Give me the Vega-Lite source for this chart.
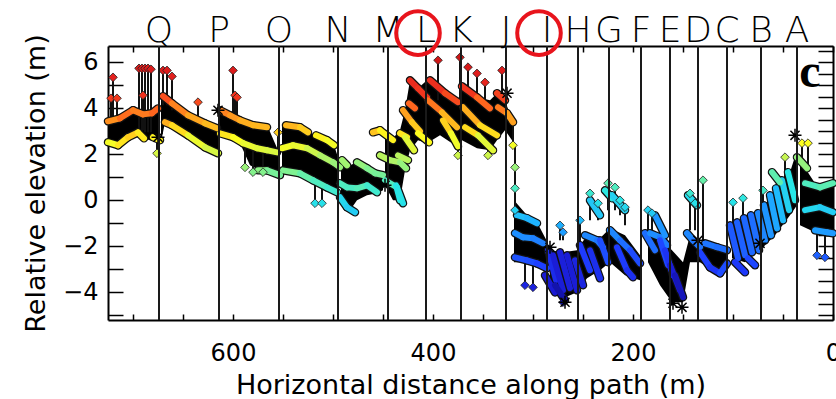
{
  "$schema": "https://vega.github.io/schema/vega-lite/v6.json",
  "width": 725,
  "height": 274,
  "autosize": {"type": "none"},
  "padding": {"left": 108, "top": 46, "right": 3, "bottom": 79},
  "background": "white",
  "config": {
    "view": {"stroke": null},
    "font": "DejaVu Sans",
    "axis": {
      "grid": false,
      "domainColor": "black",
      "domainWidth": 2,
      "tickColor": "black",
      "tickWidth": 1.5,
      "labelFont": "DejaVu Sans",
      "labelFontSize": 24,
      "labelColor": "black",
      "labelOverlap": false,
      "labelFlush": false,
      "labelBound": false,
      "titleFont": "DejaVu Sans",
      "titleFontSize": 27,
      "titleFontWeight": "normal",
      "titleColor": "black",
      "zindex": 1
    }
  },
  "datasets": {
    "fill": [
      {"g": 1, "x": 725, "hi": 3.43, "lo": 2.52}, {"g": 1, "x": 715, "hi": 3.56, "lo": 2.39}, {"g": 1, "x": 705, "hi": 3.78, "lo": 2.74}, {"g": 1, "x": 700, "hi": 3.91, "lo": 2.82}, {"g": 1, "x": 695, "hi": 3.86, "lo": 2.95}, {"g": 1, "x": 690, "hi": 3.73, "lo": 2.69}, {"g": 1, "x": 683, "hi": 3.78, "lo": 2.61}, {"g": 1, "x": 675, "hi": 3.99, "lo": 2.61},
      {"g": 2, "x": 672, "hi": 4.43, "lo": 2.52}, {"g": 2, "x": 668, "hi": 4.52, "lo": 3.39}, {"g": 2, "x": 661, "hi": 4.21, "lo": 3.26}, {"g": 2, "x": 645, "hi": 3.69, "lo": 2.82}, {"g": 2, "x": 628, "hi": 3.34, "lo": 2.30}, {"g": 2, "x": 615, "hi": 3.13, "lo": 2.04},
      {"g": 3, "x": 613, "hi": 3.91, "lo": 2.91}, {"g": 3, "x": 593, "hi": 3.47, "lo": 2.48}, {"g": 3, "x": 583, "hi": 3.34, "lo": 1.52}, {"g": 3, "x": 573, "hi": 3.21, "lo": 1.30}, {"g": 3, "x": 565, "hi": 3.17, "lo": 1.22}, {"g": 3, "x": 555, "hi": 2.17, "lo": 1.04},
      {"g": 4, "x": 551, "hi": 3.26, "lo": 1.30}, {"g": 4, "x": 533, "hi": 3.17, "lo": 1.17}, {"g": 4, "x": 523, "hi": 2.91, "lo": 0.96}, {"g": 4, "x": 517, "hi": 2.82, "lo": 0.83}, {"g": 4, "x": 506, "hi": 2.61, "lo": 0.56}, {"g": 4, "x": 499, "hi": 2.39, "lo": 0.35}, {"g": 4, "x": 494, "hi": 1.74, "lo": 0.22},
      {"g": 5, "x": 492, "hi": 1.52, "lo": -0.22}, {"g": 5, "x": 483, "hi": 1.52, "lo": -0.43}, {"g": 5, "x": 476, "hi": 1.65, "lo": 0}, {"g": 5, "x": 466, "hi": 1.39, "lo": 0.22}, {"g": 5, "x": 456, "hi": 1.17, "lo": 0.30}, {"g": 5, "x": 450, "hi": 1.09, "lo": 0.43},
      {"g": 6, "x": 448, "hi": 2.95, "lo": 0.65}, {"g": 6, "x": 440, "hi": 2.69, "lo": 0}, {"g": 6, "x": 433, "hi": 3.04, "lo": 0}, {"g": 6, "x": 428, "hi": 3.91, "lo": 1.30}, {"g": 6, "x": 423, "hi": 5.21, "lo": 2.17}, {"g": 6, "x": 415, "hi": 4.86, "lo": 2.61}, {"g": 6, "x": 406, "hi": 5.21, "lo": 2.48}, {"g": 6, "x": 393, "hi": 4.99, "lo": 2.82}, {"g": 6, "x": 375, "hi": 4.34, "lo": 2.30}, {"g": 6, "x": 371, "hi": 4.95, "lo": 2.61}, {"g": 6, "x": 356, "hi": 4.47, "lo": 2.26}, {"g": 6, "x": 343, "hi": 4.34, "lo": 2.17}, {"g": 6, "x": 336, "hi": 4.65, "lo": 2.61}, {"g": 6, "x": 328, "hi": 4.34, "lo": 3.04}, {"g": 6, "x": 321, "hi": 3.47, "lo": 2.61},
      {"g": 7, "x": 319, "hi": 0, "lo": -2.69}, {"g": 7, "x": 306, "hi": -0.65, "lo": -2.69}, {"g": 7, "x": 296, "hi": -0.96, "lo": -2.82}, {"g": 7, "x": 285, "hi": -1.87, "lo": -3.13},
      {"g": 8, "x": 283, "hi": -2.17, "lo": -3.91}, {"g": 8, "x": 270, "hi": -2.26, "lo": -4.26}, {"g": 8, "x": 256, "hi": -2.17, "lo": -4.0}, {"g": 8, "x": 246, "hi": -1.52, "lo": -3.39}, {"g": 8, "x": 233, "hi": -1.65, "lo": -3.04}, {"g": 8, "x": 223, "hi": -1.22, "lo": -2.69}, {"g": 8, "x": 208, "hi": -1.52, "lo": -3.26}, {"g": 8, "x": 193, "hi": -2.39, "lo": -3.47},
      {"g": 9, "x": 185, "hi": -1.43, "lo": -2.69}, {"g": 9, "x": 173, "hi": -1.61, "lo": -3.69}, {"g": 9, "x": 161, "hi": -2.17, "lo": -4.43}, {"g": 9, "x": 150, "hi": -2.69, "lo": -4.43}, {"g": 9, "x": 143, "hi": -1.52, "lo": -2.69}, {"g": 9, "x": 133, "hi": -1.82, "lo": -2.69}, {"g": 9, "x": 118, "hi": -1.95, "lo": -3.13}, {"g": 9, "x": 106, "hi": -2.17, "lo": -2.95},
      {"g": 10, "x": 101, "hi": -1.22, "lo": -2.52}, {"g": 10, "x": 88, "hi": -0.87, "lo": -2.69}, {"g": 10, "x": 73, "hi": -0.43, "lo": -2.17}, {"g": 10, "x": 58, "hi": 0.35, "lo": -1.52}, {"g": 10, "x": 43, "hi": 1.22, "lo": -0.65}, {"g": 10, "x": 36, "hi": 2.17, "lo": -0.22},
      {"g": 11, "x": 33, "hi": 1.74, "lo": -1.09}, {"g": 11, "x": 18, "hi": 0.74, "lo": -1.39}, {"g": 11, "x": 0, "hi": 0.74, "lo": -1.52}
    ],
    "strokes": [
      {"x": 725, "y": 3.43, "x2": 713, "y2": 3.56}, {"x": 713, "y": 3.56, "x2": 700, "y2": 3.91}, {"x": 700, "y": 3.91, "x2": 690, "y2": 3.73}, {"x": 690, "y": 3.73, "x2": 681, "y2": 3.78}, {"x": 681, "y": 3.78, "x2": 675, "y2": 3.99},
      {"x": 725, "y": 2.52, "x2": 715, "y2": 2.39}, {"x": 715, "y": 2.39, "x2": 705, "y2": 2.74}, {"x": 705, "y": 2.74, "x2": 695, "y2": 2.95}, {"x": 695, "y": 2.95, "x2": 689, "y2": 2.69}, {"x": 680, "y": 2.74, "x2": 673, "y2": 2.61},
      {"x": 670, "y": 4.52, "x2": 661, "y2": 4.21}, {"x": 661, "y": 4.21, "x2": 645, "y2": 3.69}, {"x": 645, "y": 3.69, "x2": 628, "y2": 3.34}, {"x": 628, "y": 3.34, "x2": 616, "y2": 3.13},
      {"x": 668, "y": 3.39, "x2": 661, "y2": 3.26}, {"x": 661, "y": 3.26, "x2": 645, "y2": 2.82}, {"x": 645, "y": 2.82, "x2": 628, "y2": 2.30}, {"x": 628, "y": 2.30, "x2": 615, "y2": 2.04},
      {"x": 613, "y": 3.91, "x2": 603, "y2": 3.69}, {"x": 603, "y": 3.69, "x2": 593, "y2": 3.47}, {"x": 593, "y": 3.47, "x2": 580, "y2": 3.26}, {"x": 580, "y": 3.26, "x2": 566, "y2": 3.17},
      {"x": 613, "y": 2.91, "x2": 600, "y2": 2.74}, {"x": 600, "y": 2.74, "x2": 590, "y2": 2.48}, {"x": 590, "y": 2.48, "x2": 576, "y2": 2.26}, {"x": 576, "y": 2.26, "x2": 566, "y2": 2.17}, {"x": 566, "y": 2.17, "x2": 556, "y2": 2.08},
      {"x": 575, "y": 1.30, "x2": 566, "y2": 1.30}, {"x": 566, "y": 1.30, "x2": 553, "y2": 1.09},
      {"x": 547, "y": 3.26, "x2": 533, "y2": 3.17}, {"x": 533, "y": 3.17, "x2": 525, "y2": 2.95},
      {"x": 551, "y": 2.26, "x2": 540, "y2": 2.39}, {"x": 540, "y": 2.39, "x2": 526, "y2": 2.26}, {"x": 526, "y": 2.26, "x2": 513, "y2": 1.95}, {"x": 513, "y": 1.95, "x2": 500, "y2": 1.65}, {"x": 500, "y": 1.65, "x2": 493, "y2": 1.43},
      {"x": 517, "y": 2.82, "x2": 506, "y2": 2.61}, {"x": 506, "y": 2.61, "x2": 499, "y2": 2.39},
      {"x": 550, "y": 1.30, "x2": 533, "y2": 1.17}, {"x": 533, "y": 1.17, "x2": 520, "y2": 0.87}, {"x": 520, "y": 0.87, "x2": 506, "y2": 0.56}, {"x": 506, "y": 0.56, "x2": 496, "y2": 0.35},
      {"x": 491, "y": 1.74, "x2": 486, "y2": 1.52},
      {"x": 493, "y": 0.74, "x2": 486, "y2": 0.56}, {"x": 486, "y": 0.56, "x2": 476, "y2": 0.52}, {"x": 476, "y": 0.52, "x2": 466, "y2": 0.65}, {"x": 466, "y": 0.65, "x2": 456, "y2": 0.35},
      {"x": 493, "y": 0.13, "x2": 486, "y2": -0.30}, {"x": 486, "y": -0.30, "x2": 478, "y2": -0.52},
      {"x": 476, "y": 1.65, "x2": 466, "y2": 1.39}, {"x": 466, "y": 1.39, "x2": 458, "y2": 1.17}, {"x": 458, "y": 1.17, "x2": 450, "y2": 1.09},
      {"x": 448, "y": 0.87, "x2": 436, "y2": 0.56}, {"x": 436, "y": 0.56, "x2": 430, "y2": -0.13},
      {"x": 460, "y": 2.95, "x2": 453, "y2": 3.04}, {"x": 453, "y": 3.04, "x2": 440, "y2": 2.61},
      {"x": 453, "y": 1.95, "x2": 443, "y2": 1.74}, {"x": 443, "y": 1.74, "x2": 433, "y2": 1.65}, {"x": 433, "y": 1.65, "x2": 427, "y2": 1.39},
      {"x": 433, "y": 2.91, "x2": 426, "y2": 2.74}, {"x": 428, "y": 2.74, "x2": 419, "y2": 2.17},
      {"x": 435, "y": 1.95, "x2": 425, "y2": 1.74}, {"x": 437, "y": 0.65, "x2": 433, "y2": 0},
      {"x": 430, "y": 3.91, "x2": 421, "y2": 3.39}, {"x": 421, "y": 3.39, "x2": 413, "y2": 3.0},
      {"x": 424, "y": 4.21, "x2": 418, "y2": 3.99},
      {"x": 423, "y": 5.21, "x2": 415, "y2": 4.86}, {"x": 415, "y": 4.86, "x2": 406, "y2": 4.47},
      {"x": 415, "y": 2.91, "x2": 404, "y2": 2.52},
      {"x": 403, "y": 5.21, "x2": 388, "y2": 4.65}, {"x": 388, "y": 4.65, "x2": 375, "y2": 4.26},
      {"x": 405, "y": 4.34, "x2": 391, "y2": 3.82}, {"x": 391, "y": 3.82, "x2": 376, "y2": 3.17},
      {"x": 390, "y": 3.47, "x2": 382, "y2": 2.91}, {"x": 382, "y": 2.91, "x2": 375, "y2": 2.34},
      {"x": 371, "y": 4.95, "x2": 356, "y2": 4.47}, {"x": 356, "y": 4.47, "x2": 343, "y2": 3.99},
      {"x": 370, "y": 4.04, "x2": 353, "y2": 3.26}, {"x": 353, "y": 3.26, "x2": 336, "y2": 2.82},
      {"x": 368, "y": 3.17, "x2": 355, "y2": 2.82}, {"x": 355, "y": 2.82, "x2": 340, "y2": 2.17},
      {"x": 336, "y": 4.65, "x2": 328, "y2": 4.34},
      {"x": 335, "y": 4.04, "x2": 326, "y2": 3.78}, {"x": 326, "y": 3.78, "x2": 320, "y2": 3.39},
      {"x": 316, "y": -0.65, "x2": 306, "y2": -0.78}, {"x": 306, "y": -0.78, "x2": 296, "y2": -1.0},
      {"x": 318, "y": -1.43, "x2": 310, "y2": -1.61}, {"x": 310, "y": -1.61, "x2": 300, "y2": -1.65}, {"x": 300, "y": -1.65, "x2": 290, "y2": -1.87},
      {"x": 318, "y": -2.48, "x2": 306, "y2": -2.61}, {"x": 306, "y": -2.61, "x2": 296, "y2": -2.74}, {"x": 296, "y": -2.74, "x2": 286, "y2": -2.95},
      {"x": 285, "y": -2.17, "x2": 277, "y2": -3.47}, {"x": 280, "y": -2.39, "x2": 270, "y2": -3.91}, {"x": 273, "y": -2.26, "x2": 263, "y2": -3.82}, {"x": 266, "y": -2.39, "x2": 256, "y2": -3.91}, {"x": 258, "y": -2.61, "x2": 250, "y2": -3.69},
      {"x": 288, "y": -3.26, "x2": 278, "y2": -4.0}, {"x": 278, "y": -3.69, "x2": 268, "y2": -4.34},
      {"x": 248, "y": -1.52, "x2": 236, "y2": -1.74}, {"x": 236, "y": -1.74, "x2": 230, "y2": -2.04},
      {"x": 243, "y": 0, "x2": 233, "y2": -0.65}, {"x": 228, "y": 0.43, "x2": 221, "y2": 0.09}, {"x": 221, "y": 0.22, "x2": 208, "y2": -0.43},
      {"x": 223, "y": -1.30, "x2": 213, "y2": -1.74}, {"x": 213, "y": -1.74, "x2": 203, "y2": -2.17}, {"x": 203, "y": -2.17, "x2": 193, "y2": -2.74},
      {"x": 253, "y": -1.95, "x2": 243, "y2": -3.04}, {"x": 243, "y": -2.17, "x2": 233, "y2": -3.39}, {"x": 233, "y": -1.74, "x2": 225, "y2": -2.69},
      {"x": 216, "y": -2.04, "x2": 206, "y2": -3.04}, {"x": 206, "y": -3.04, "x2": 200, "y2": -3.34},
      {"x": 188, "y": -1.43, "x2": 178, "y2": -2.17}, {"x": 183, "y": -1.43, "x2": 173, "y2": -1.61}, {"x": 173, "y": -1.61, "x2": 166, "y2": -1.95},
      {"x": 173, "y": -1.74, "x2": 165, "y2": -2.82}, {"x": 168, "y": -2.17, "x2": 160, "y2": -3.26}, {"x": 163, "y": -2.82, "x2": 153, "y2": -3.91}, {"x": 158, "y": -3.26, "x2": 150, "y2": -4.21},
      {"x": 178, "y": -0.65, "x2": 168, "y2": -1.52},
      {"x": 145, "y": 0.22, "x2": 136, "y2": -0.22},
      {"x": 146, "y": -1.43, "x2": 140, "y2": -1.74}, {"x": 140, "y": -1.74, "x2": 133, "y2": -2.04},
      {"x": 133, "y": -2.26, "x2": 123, "y2": -2.91}, {"x": 123, "y": -2.91, "x2": 113, "y2": -3.17}, {"x": 113, "y": -3.17, "x2": 106, "y2": -2.74},
      {"x": 128, "y": -1.87, "x2": 116, "y2": -2.04}, {"x": 116, "y": -2.04, "x2": 106, "y2": -2.17},
      {"x": 103, "y": -1.09, "x2": 95, "y2": -2.52}, {"x": 96, "y": -0.96, "x2": 88, "y2": -2.39}, {"x": 89, "y": -0.78, "x2": 81, "y2": -2.26}, {"x": 82, "y": -0.65, "x2": 74, "y2": -2.17}, {"x": 75, "y": -0.56, "x2": 68, "y2": -1.74},
      {"x": 98, "y": -2.69, "x2": 88, "y2": -3.13}, {"x": 85, "y": -2.52, "x2": 78, "y2": -2.82},
      {"x": 69, "y": -0.22, "x2": 62, "y2": -1.52}, {"x": 63, "y": 0.22, "x2": 56, "y2": -1.22}, {"x": 57, "y": 0.52, "x2": 50, "y2": -0.87}, {"x": 51, "y": 0.87, "x2": 44, "y2": -0.43}, {"x": 45, "y": 1.22, "x2": 38, "y2": 0},
      {"x": 61, "y": 1.22, "x2": 53, "y2": 0.78},
      {"x": 36, "y": 1.87, "x2": 26, "y2": 1.39},
      {"x": 28, "y": 0.74, "x2": 13, "y2": 0.56}, {"x": 13, "y": 0.56, "x2": 0, "y2": 0.74},
      {"x": 28, "y": -0.43, "x2": 13, "y2": -0.30}, {"x": 13, "y": -0.30, "x2": 0, "y2": -0.52},
      {"x": 18, "y": -1.30, "x2": 6, "y2": -1.39}, {"x": 6, "y": -1.39, "x2": 0, "y2": -1.43}
    ],
    "spikes": [
      {"x": 722, "base": 3.47, "tip": 4.43}, {"x": 720, "base": 3.47, "tip": 5.34}, {"x": 716, "base": 3.56, "tip": 4.43},
      {"x": 694, "base": 2.95, "tip": 5.73}, {"x": 691, "base": 2.95, "tip": 5.73}, {"x": 688, "base": 2.95, "tip": 5.73}, {"x": 685, "base": 2.95, "tip": 5.73}, {"x": 682, "base": 2.95, "tip": 5.69}, {"x": 690, "base": 3.04, "tip": 4.56},
      {"x": 670, "base": 4.13, "tip": 5.64}, {"x": 666, "base": 4.13, "tip": 5.64}, {"x": 661, "base": 3.91, "tip": 5.38}, {"x": 635, "base": 3.52, "tip": 4.26},
      {"x": 600, "base": 3.60, "tip": 5.64}, {"x": 598, "base": 3.60, "tip": 4.56}, {"x": 596, "base": 3.60, "tip": 4.47},
      {"x": 676, "base": 2.69, "tip": 2.04}, {"x": 588, "base": 2.39, "tip": 1.43}, {"x": 580, "base": 2.26, "tip": 1.22}, {"x": 570, "base": 2.17, "tip": 1.22},
      {"x": 518, "base": 0.78, "tip": -0.13}, {"x": 511, "base": 0.65, "tip": -0.13}, {"x": 555, "base": 2.17, "tip": 2.95},
      {"x": 395, "base": 4.34, "tip": 6.08}, {"x": 373, "base": 4.34, "tip": 6.21}, {"x": 365, "base": 4.56, "tip": 5.78}, {"x": 356, "base": 4.34, "tip": 5.51}, {"x": 348, "base": 4.13, "tip": 5.12}, {"x": 331, "base": 4.34, "tip": 5.64},
      {"x": 375, "base": 2.34, "tip": 1.95}, {"x": 345, "base": 2.39, "tip": 1.95},
      {"x": 320, "base": 3.39, "tip": 2.39}, {"x": 318, "base": 2.39, "tip": 1.43}, {"x": 318, "base": 1.43, "tip": 0.52}, {"x": 318, "base": 0.43, "tip": -0.43},
      {"x": 308, "base": -2.61, "tip": -3.69}, {"x": 300, "base": -2.74, "tip": -3.78}, {"x": 270, "base": -3.60, "tip": -4.43},
      {"x": 273, "base": -1.74, "tip": -1.09}, {"x": 270, "base": -1.74, "tip": -1.39}, {"x": 253, "base": -1.95, "tip": -0.87},
      {"x": 243, "base": -0.87, "tip": 0.30}, {"x": 235, "base": -0.87, "tip": -0.13}, {"x": 225, "base": -0.43, "tip": 0.74}, {"x": 218, "base": -0.43, "tip": 0.56}, {"x": 213, "base": -0.65, "tip": 0}, {"x": 208, "base": -1.09, "tip": -0.30},
      {"x": 185, "base": -1.52, "tip": -0.43}, {"x": 181, "base": -1.52, "tip": -0.56},
      {"x": 143, "base": -1.30, "tip": 0.30}, {"x": 138, "base": -1.30, "tip": -0.13}, {"x": 130, "base": -1.74, "tip": 0.87},
      {"x": 100, "base": -1.30, "tip": -0.09}, {"x": 90, "base": -1.22, "tip": 0.09}, {"x": 70, "base": -0.87, "tip": 0.43},
      {"x": 48, "base": 0.87, "tip": 1.87}, {"x": 31, "base": 1.52, "tip": 2.48}, {"x": 25, "base": 1.52, "tip": 2.48},
      {"x": 16, "base": -1.39, "tip": -2.39}, {"x": 8, "base": -1.39, "tip": -2.48}
    ],
    "stars": [
      {"x": 675, "y": 2.74}, {"x": 615, "y": 3.91}, {"x": 448, "y": 0.65}, {"x": 406, "y": 3.60}, {"x": 326, "y": 4.65}, {"x": 283, "y": -2.04}, {"x": 268, "y": -4.43}, {"x": 160, "y": -4.47}, {"x": 151, "y": -4.65}, {"x": 135, "y": -1.74}, {"x": 73, "y": -1.87}, {"x": 38, "y": 2.82}
    ],
    "sections": [
      {"name": "Q", "x": 674}, {"name": "P", "x": 614}, {"name": "O", "x": 554}, {"name": "N", "x": 495}, {"name": "M", "x": 445}, {"name": "L", "x": 407}, {"name": "K", "x": 372}, {"name": "J", "x": 327}, {"name": "I", "x": 286}, {"name": "H", "x": 255}, {"name": "G", "x": 224}, {"name": "F", "x": 192}, {"name": "E", "x": 163}, {"name": "D", "x": 135}, {"name": "C", "x": 106}, {"name": "B", "x": 72}, {"name": "A", "x": 36}
    ],
    "highlighted": [
      {"name": "L", "x": 415}, {"name": "I", "x": 294}
    ]
  },
  "layer": [
    {
      "data": {"name": "fill"},
      "mark": {"type": "area", "color": "black", "opacity": 1},
      "encoding": {
        "x": {
          "field": "x", "type": "quantitative",
          "scale": {"domain": [0, 725], "reverse": true, "nice": false, "zero": false},
          "axis": {
            "orient": "bottom",
            "title": "Horizontal distance along path (m)",
            "values": [0, 50, 100, 150, 200, 250, 300, 350, 400, 450, 500, 550, 600, 650, 700],
            "format": "d",
            "labelExpr": "datum.value % 200 === 0 ? datum.label : ''",
            "tickSize": -6,
            "labelPadding": 27,
            "titlePadding": 7,
            "encode": {"ticks": {"update": {"y2": {"signal": "datum.value % 200 === 0 ? -6 : -3"}}}}
          }
        },
        "y": {
          "field": "hi", "type": "quantitative",
          "scale": {"domain": [-5.2, 6.7], "nice": false, "zero": false},
          "axis": {
            "orient": "left",
            "title": "Relative elevation (m)",
            "values": [-5, -4.5, -4, -3.5, -3, -2.5, -2, -1.5, -1, -0.5, 0, 0.5, 1, 1.5, 2, 2.5, 3, 3.5, 4, 4.5, 5, 5.5, 6, 6.5],
            "format": "d",
            "labelExpr": "datum.value % 2 === 0 ? datum.label : ''",
            "tickSize": -15,
            "labelPadding": 25,
            "titlePadding": 12,
            "encode": {"ticks": {"update": {"x2": {"signal": "datum.value % 2 === 0 ? 15 : 8"}}}}
          }
        },
        "y2": {"field": "lo"},
        "detail": {"field": "g"}
      }
    },
    {
      "data": {"name": "strokes"},
      "mark": {"type": "rule", "color": "#111111", "strokeWidth": 8.5, "strokeCap": "round"},
      "encoding": {
        "x": {
          "field": "x", "type": "quantitative",
          "scale": {"domain": [0, 725], "reverse": true, "nice": false, "zero": false},
          "axis": {
            "orient": "top", "title": null, "labels": false,
            "values": [0, 50, 100, 150, 200, 250, 300, 350, 400, 450, 500, 550, 600, 650, 700],
            "tickSize": -6,
            "encode": {"ticks": {"update": {"y2": {"signal": "datum.value % 200 === 0 ? 6 : 3"}}}}
          }
        },
        "y": {
          "field": "y", "type": "quantitative",
          "scale": {"domain": [-5.2, 6.7], "nice": false, "zero": false},
          "axis": {
            "orient": "right", "title": null, "labels": false,
            "values": [-5, -4.5, -4, -3.5, -3, -2.5, -2, -1.5, -1, -0.5, 0, 0.5, 1, 1.5, 2, 2.5, 3, 3.5, 4, 4.5, 5, 5.5, 6, 6.5],
            "tickSize": -15,
            "encode": {"ticks": {"update": {"x2": {"signal": "datum.value % 2 === 0 ? -15 : -8"}}}}
          }
        },
        "x2": {"field": "x2"},
        "y2": {"field": "y2"}
      }
    },
    {
      "data": {"name": "spikes"},
      "mark": {"type": "rule", "color": "#111111", "strokeWidth": 2},
      "encoding": {
        "x": {"field": "x", "type": "quantitative", "axis": null},
        "y": {"field": "base", "type": "quantitative", "axis": null},
        "y2": {"field": "tip"}
      }
    },
    {
      "data": {"name": "strokes"},
      "mark": {"type": "rule", "strokeWidth": 6, "strokeCap": "round"},
      "encoding": {
        "x": {"field": "x", "type": "quantitative", "axis": null},
        "y": {"field": "y", "type": "quantitative", "axis": null},
        "x2": {"field": "x2"},
        "y2": {"field": "y2"},
        "color": {
          "field": "y2", "type": "quantitative", "legend": null,
          "scale": {
            "domain": [-4.5, -4, -3, -2, -1, 0, 1, 2, 2.5, 3, 3.5, 4, 4.5, 5.5, 6.3],
            "range": ["#10109a", "#1a1ad2", "#1e3cff", "#1e78ff", "#1eb4ff", "#28e6e6", "#6ef0a0", "#d2f546", "#ffff1e", "#ffc81e", "#ff961e", "#ff641e", "#f0321e", "#e01e1e", "#c81414"],
            "interpolate": "rgb"
          }
        }
      }
    },
    {
      "data": {"name": "spikes"},
      "mark": {"type": "point", "shape": "diamond", "filled": true, "size": 75, "stroke": "#222222", "strokeWidth": 0.8, "opacity": 1},
      "encoding": {
        "x": {"field": "x", "type": "quantitative", "axis": null},
        "y": {"field": "tip", "type": "quantitative", "axis": null},
        "color": {"field": "tip", "type": "quantitative", "legend": null}
      }
    },
    {
      "data": {"name": "stars"},
      "mark": {"type": "point", "shape": "M-1,0L1,0M0,-1L0,1M-0.7,-0.7L0.7,0.7M-0.7,0.7L0.7,-0.7", "filled": false, "size": 170, "stroke": "black", "strokeWidth": 1.5, "opacity": 1},
      "encoding": {
        "x": {"field": "x", "type": "quantitative", "axis": null},
        "y": {"field": "y", "type": "quantitative", "axis": null}
      }
    },
    {
      "data": {"name": "sections"},
      "mark": {"type": "rule", "color": "#1a1a1a", "strokeWidth": 2},
      "encoding": {
        "x": {"field": "x", "type": "quantitative", "axis": null}
      }
    },
    {
      "data": {"name": "sections"},
      "mark": {"type": "text", "font": "DejaVu Sans", "fontSize": 36, "fontWeight": 300, "align": "center", "baseline": "alphabetic", "color": "black"},
      "encoding": {
        "x": {"field": "x", "type": "quantitative", "axis": null},
        "y": {"datum": 6.87, "axis": null},
        "text": {"field": "name"}
      }
    },
    {
      "data": {"name": "highlighted"},
      "mark": {"type": "point", "shape": "circle", "filled": false, "size": 1900, "stroke": "#e8141c", "strokeWidth": 4, "opacity": 1},
      "encoding": {
        "x": {"field": "x", "type": "quantitative", "axis": null},
        "y": {"datum": 7.26, "axis": null}
      }
    },
    {
      "data": {"values": [{"panel": "c"}]},
      "mark": {"type": "text", "font": "Liberation Serif", "fontSize": 48, "fontWeight": "bold", "align": "center", "baseline": "alphabetic", "color": "black"},
      "encoding": {
        "x": {"datum": 23, "axis": null},
        "y": {"datum": 4.92, "axis": null},
        "text": {"field": "panel"}
      }
    }
  ],
  "resolve": {"axis": {"x": "independent", "y": "independent"}}
}
